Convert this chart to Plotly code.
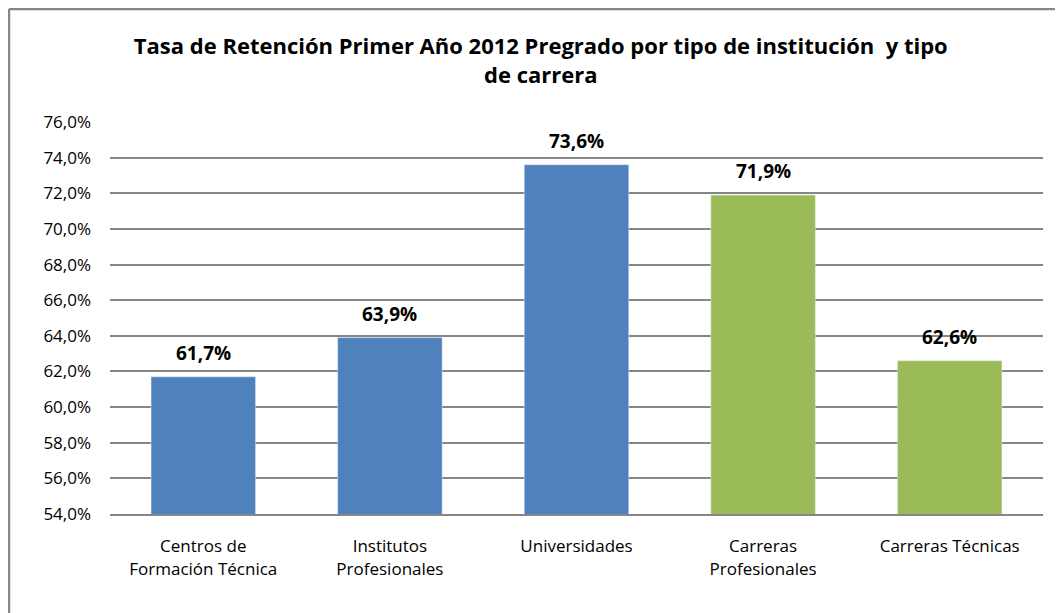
"""Tasa de retención primer año 2012 - bar chart."""

import plotly.graph_objects as go

categories = [
    "Centros de<br>Formación Técnica",
    "Institutos<br>Profesionales",
    "Universidades",
    "Carreras<br>Profesionales",
    "Carreras Técnicas",
]
retention = [0.617, 0.639, 0.736, 0.719, 0.626]
bar_colors = ["#4F81BD", "#4F81BD", "#4F81BD", "#9BBB59", "#9BBB59"]
y_ticks = [0.54, 0.56, 0.58, 0.60, 0.62, 0.64, 0.66, 0.68, 0.70, 0.72, 0.74, 0.76]

FONT = "Open Sans, Roboto, sans-serif"

fig = go.Figure(
    go.Bar(
        x=categories,
        y=retention,
        marker_color=bar_colors,
        width=0.56,
        hoverinfo="x+y",
    )
)

# value labels sit a bit above each bar
for cat, val in zip(categories, retention):
    fig.add_annotation(
        x=cat, y=val, yanchor="bottom", yshift=9, showarrow=False,
        text="<b>" + f"{val * 100:.1f}%".replace(".", ",") + "</b>",
        font=dict(size=19, color="black", family=FONT),
    )

# chart frame: only the top and left edges fall inside the picture
border = dict(color="#868686", width=2.5)
fig.add_shape(type="line", xref="paper", yref="paper",
              x0=-0.1083, x1=1.2, y0=1.2883, y1=1.2883, line=border, layer="above")
fig.add_shape(type="line", xref="paper", yref="paper",
              x0=-0.1083, x1=-0.1083, y0=-0.3, y1=1.2883, line=border, layer="above")

fig.update_layout(
    width=1055,
    height=605,
    margin=dict(l=102, r=20, t=114, b=99),
    paper_bgcolor="white",
    plot_bgcolor="white",
    separators=",.",
    showlegend=False,
    font=dict(family=FONT, size=16, color="black"),
    title=dict(
        text="<b>Tasa de Retención Primer Año 2012 Pregrado por tipo de institución  y tipo<br>de carrera</b>",
        x=0.505, xanchor="center", y=0.924, yanchor="middle",
        font=dict(size=22, family=FONT),
    ),
    xaxis=dict(
        showline=True, linecolor="#868686", linewidth=2,
        ticks="", tickfont=dict(size=17), ticklabelstandoff=16,
    ),
    yaxis=dict(
        range=[0.54, 0.76],
        tickvals=y_ticks,
        tickformat=".1%",
        showgrid=True, gridcolor="#868686", gridwidth=1.5,
        ticks="", ticklabelstandoff=18,
        showline=False, zeroline=False,
        tickfont=dict(size=17),
    ),
)

fig.write_html("out.html")
